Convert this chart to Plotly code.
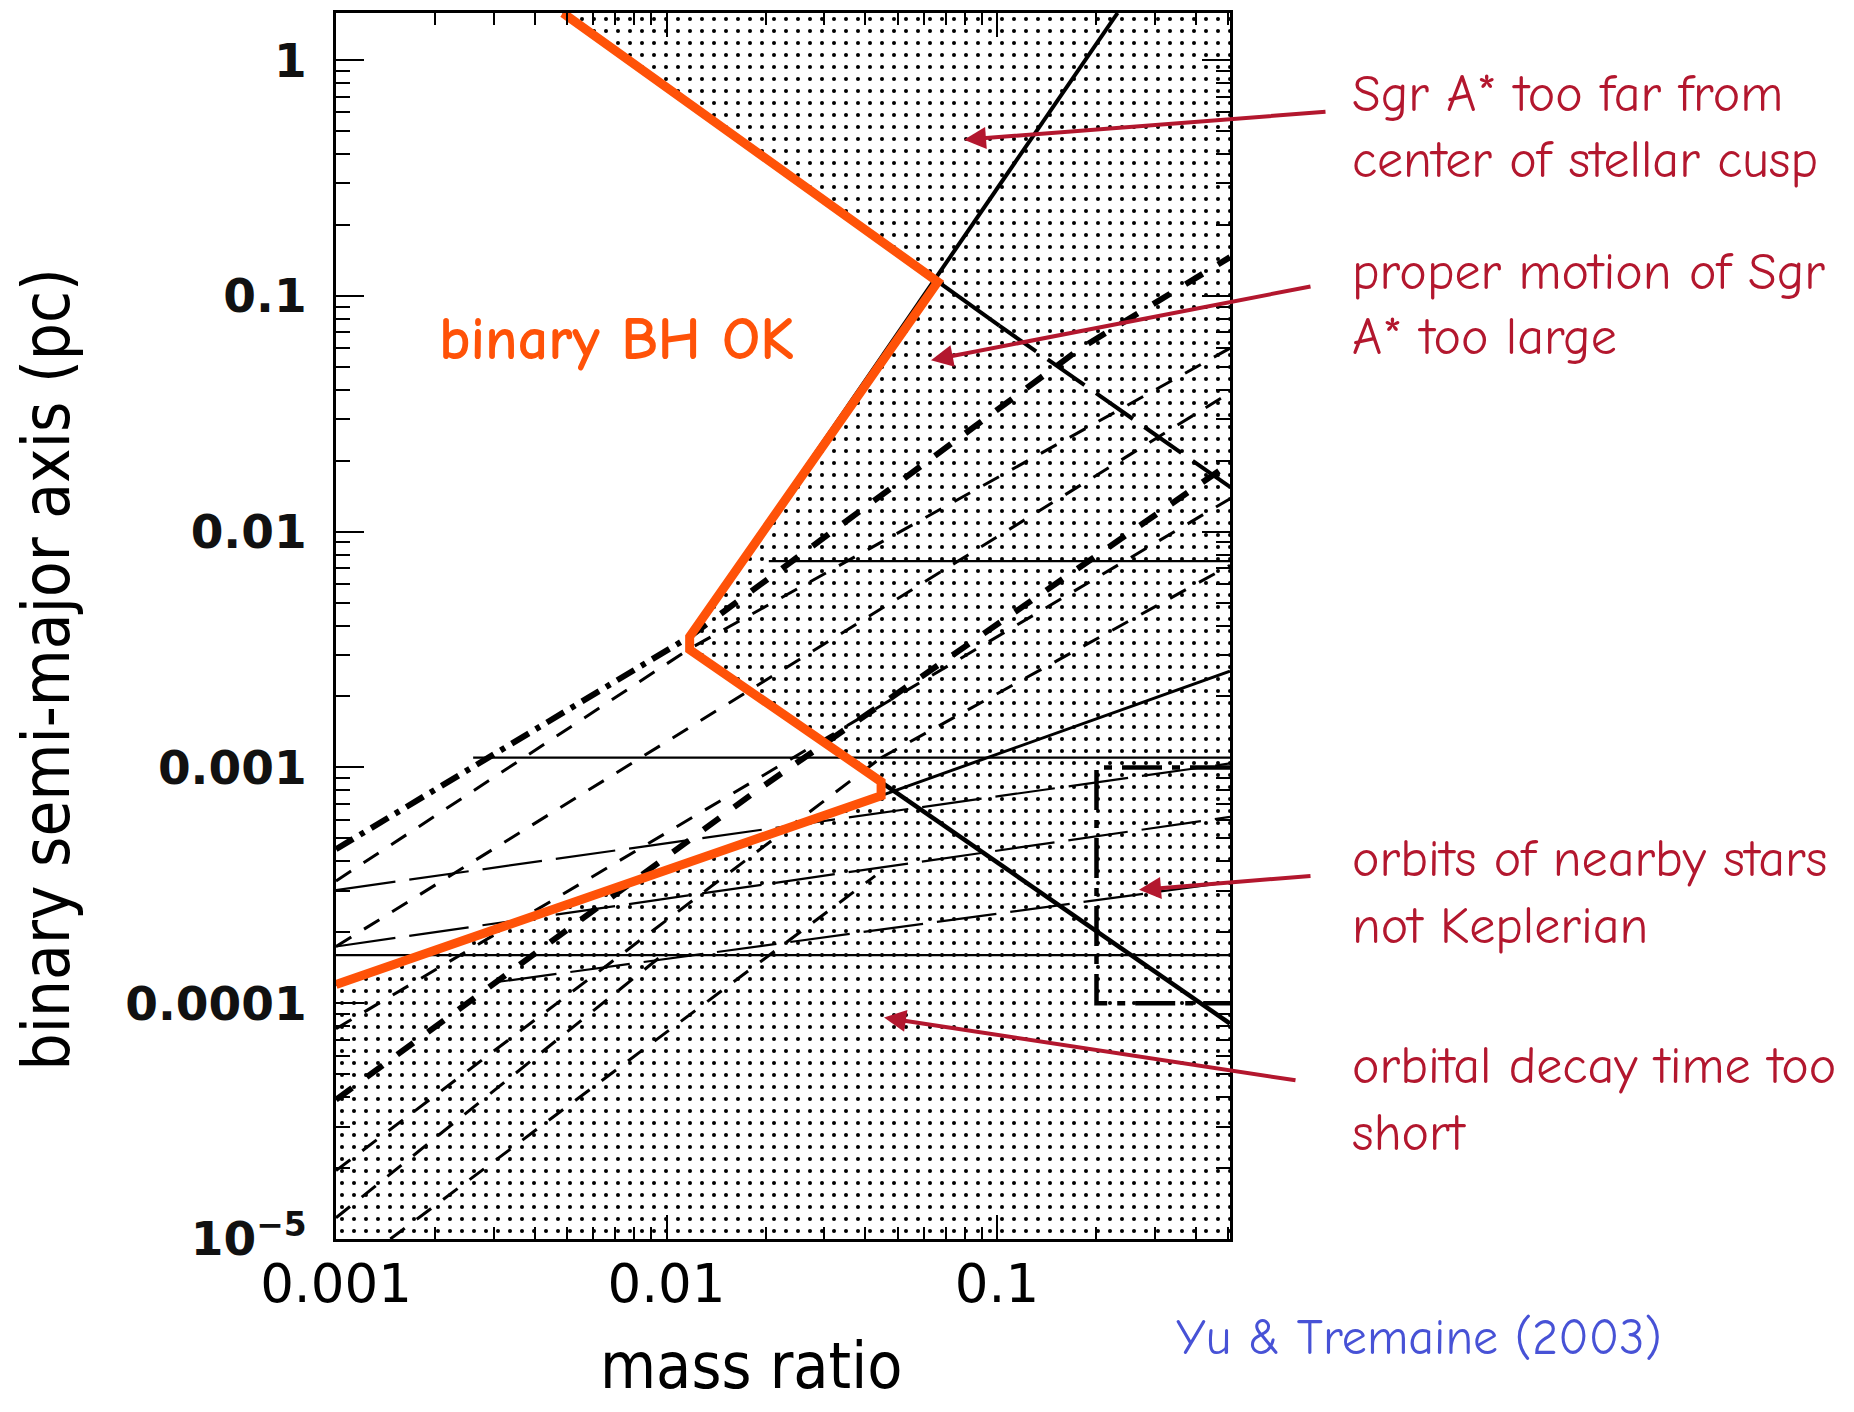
import plotly.graph_objects as go

# ---------------- axis ranges (log10) ----------------
X_LOG_RANGE = [-3.0, -0.295]
Y_LOG_RANGE = [-5.0, 0.2]
Q_MIN, Q_MAX = 0.001, 0.507
A_MIN, A_MAX = 1e-5, 1.585

# ---------------- data ----------------
# orange boundary of the allowed ("binary BH OK") region
ok_q = [0.00486, 0.0662, 0.01175, 0.01175, 0.0446, 0.0446, 0.001]
ok_a = [1.585, 0.1148, 0.00359, 0.00316, 0.00087, 0.000759, 0.00012]

# solid slope-2 line (stellar cusp)
cusp_q = [0.01175, 0.2317]
cusp_a = [0.00359, 1.585]

# slope -1 line (proper motion): solid part and long-dash part
pm_solid_q = [0.00486, 0.1016]
pm_solid_a = [1.585, 0.0748]
pm_dash_q = [0.1016, 0.507]
pm_dash_a = [0.0748, 0.0155]

# lower slope -1 solid line (orbits of nearby stars)
orb_q = [0.01175, 0.507]
orb_a = [0.00316, 8.2e-5]

# slope 1/2 line (orbital decay)
dec_q = [0.001, 0.0446, 0.507]
dec_a = [0.00012, 0.00076, 0.00256]

# thin horizontal lines
h_level = [0.0075, 0.0011, 0.00016]
h_start = [0.0204, 0.0026, 0.001]

# dash-dot box (stellar orbits)
box_q = [0.507, 0.2, 0.2, 0.507]
box_a = [0.001, 0.001, 0.0001, 0.0001]

# thick dash-dot line
dd_q = [0.001, 0.0118]
dd_a = [0.00045, 0.0036]

# bold dashed lines
f1_q = [0.0118, 0.178, 0.507]
f1_a = [0.0036, 0.0596, 0.146]
f2_q = [0.001, 0.0188, 0.507]
f2_a = [3.9e-5, 8.0e-4, 0.0195]

# thin dashed lines (steep)
g1_q = [0.001, 0.0118, 0.507]
g1_a = [3.3e-4, 0.0032, 0.06]
g2_q = [0.001, 0.507]
g2_a = [1.74e-4, 0.0389]
g3_q = [0.001, 0.507]
g3_a = [7.8e-5, 0.0138]
g4_q = [0.001, 0.0446]
g4_a = [1.95e-5, 0.0011]
g5_q = [0.00146, 0.0428]
g5_a = [1e-5, 3.47e-4]
g6_q = [0.001, 0.00972]
g6_a = [1.23e-5, 1.6e-4]
g7_q = [0.0446, 0.507]
g7_a = [0.0011, 0.0072]

# thin shallow lines
s1_q = [0.001, 0.507]
s1_a = [3.02e-4, 1.04e-3]
s2_q = [0.001, 0.507]
s2_a = [1.74e-4, 6.17e-4]
s3_q = [0.00307, 0.507]
s3_a = [1.23e-4, 3.27e-4]

# tick labels
y_tickvals = [1e-5, 1e-4, 1e-3, 1e-2, 1e-1, 1]
y_ticktext = ["10<sup>\u22125</sup>", "0.0001", "0.001", "0.01", "0.1", "1"]
x_tickvals = [0.001, 0.01, 0.1]
x_ticktext = ["0.001", "0.01", "0.1"]

# ---------------- figure ----------------
W, H = 1854, 1412
OFF = 8  # page body margin
ML, MR, MT, MB = 328, 632, 2, 181
PW, PH = W - ML - MR, H - MT - MB

fig = go.Figure()

# stippled excluded region = plot box minus the allowed region
fill_q = ok_q + [Q_MIN, Q_MAX, Q_MAX, ok_q[0]]
fill_a = ok_a + [A_MIN, A_MIN, A_MAX, ok_a[0]]
fig.add_trace(go.Scatter(
    x=fill_q, y=fill_a, mode="lines", fill="toself",
    line=dict(width=0), fillcolor="white",
    fillpattern=dict(shape=".", fgcolor="black", bgcolor="white",
                     size=12, solidity=0.09, fillmode="replace"),
    hoverinfo="skip", showlegend=False))


def line(q, a, width, dash="solid", color="black"):
    fig.add_trace(go.Scatter(x=q, y=a, mode="lines",
                             line=dict(color=color, width=width, dash=dash),
                             hoverinfo="skip", showlegend=False))


# thin dashed / shallow lines
for q, a in [(g1_q, g1_a), (g2_q, g2_a), (g3_q, g3_a), (g4_q, g4_a),
             (g5_q, g5_a), (g6_q, g6_a), (g7_q, g7_a)]:
    line(q, a, 3, "18px,15px")
for q, a in [(s1_q, s1_a), (s2_q, s2_a), (s3_q, s3_a)]:
    line(q, a, 2.2, "60px,14px")
# bold dashed
line(f1_q, f1_a, 6, "20px,18px")
line(f2_q, f2_a, 6, "20px,18px")
# dash-dot
line(dd_q, dd_a, 6, "20px,8px,5px,8px")
line(box_q, box_a, 4.5, "40px,10px,8px,10px")
# horizontals
for lv, st in zip(h_level, h_start):
    line([st, Q_MAX], [lv, lv], 2.2)
# main solid lines
line(cusp_q, cusp_a, 4)
line(pm_solid_q, pm_solid_a, 4)
line(pm_dash_q, pm_dash_a, 4, "45px,14px")
line(orb_q, orb_a, 4.5)
line(dec_q, dec_a, 3)
# orange allowed-region boundary
line(ok_q, ok_a, 9, "solid", "#FF5208")

# ---------------- axes ----------------
minor_x = [m * 10 ** e for e in (-3, -2, -1) for m in range(2, 10) if m * 10 ** e < Q_MAX]
minor_y = [m * 10 ** e for e in (-5, -4, -3, -2, -1, 0) for m in range(2, 10) if m * 10 ** e < A_MAX]

fig.update_xaxes(
    type="log", range=X_LOG_RANGE, showgrid=False, zeroline=False,
    showline=True, linewidth=3, linecolor="black", mirror="ticks",
    ticks="inside", ticklen=24, tickwidth=2, tickcolor="black",
    tickvals=x_tickvals, ticktext=x_ticktext,
    tickfont=dict(family="DejaVu Sans", size=53, color="black"),
    ticklabelstandoff=-4,
    minor=dict(tickvals=minor_x, ticks="inside", ticklen=12, tickwidth=2,
               tickcolor="black", showgrid=False),
)
fig.update_yaxes(
    type="log", range=Y_LOG_RANGE, showgrid=False, zeroline=False,
    showline=True, linewidth=3, linecolor="black", mirror="ticks",
    ticks="inside", ticklen=28, tickwidth=2, tickcolor="black",
    tickvals=y_tickvals, ticktext=y_ticktext,
    tickfont=dict(family="DejaVu Sans", size=47, color="#111111", weight="bold"),
    ticklabelstandoff=17,
    minor=dict(tickvals=minor_y, ticks="inside", ticklen=14, tickwidth=2,
               tickcolor="black", showgrid=False),
)


def px(xf):
    return (xf - OFF - ML) / PW


def py(yf):
    return (H - MB - (yf - OFF)) / PH


ann = []
comic = "Comic Sans MS, Comic Neue, Noto Sans, sans-serif"
narrow = "Liberation Sans Narrow, DejaVu Sans Condensed, Liberation Sans, sans-serif"
red = "#B3172E"

ann.append(dict(text="binary BH OK", x=px(437), y=py(337), xanchor="left", yanchor="middle",
                font=dict(family=comic, size=60, color="#FF5208", weight="bold")))
ann.append(dict(text="mass ratio", x=px(751), y=py(1366), xanchor="center", yanchor="middle",
                font=dict(family=narrow, size=64, color="black")))
ann.append(dict(text="binary semi-major axis (pc)", x=px(46), y=py(668), xanchor="center",
                yanchor="middle", textangle=-90,
                font=dict(family=narrow, size=65, color="black")))
ann.append(dict(text="Yu & Tremaine (2003)", x=px(1174), y=py(1338), xanchor="left", yanchor="middle",
                font=dict(family=comic, size=50, color="#4752D6")))

red_lines = [("Sgr A* too far from", 91), ("center of stellar cusp", 157),
             ("proper motion of Sgr", 270), ("A* too large", 335),
             ("orbits of nearby stars", 858), ("not Keplerian", 925),
             ("orbital decay time too", 1066), ("short", 1133)]
for t, yy in red_lines:
    ann.append(dict(text=t, x=px(1350), y=py(yy), xanchor="left", yanchor="middle",
                    font=dict(family=comic, size=52, color=red)))

arrows = [((964, 137), (1327, 109)), ((931, 358), (1312, 284)),
          ((1139, 889), (1312, 875)), ((884, 1017), (1297, 1080))]
for (tx, ty), (sx, sy) in arrows:
    ann.append(dict(text="", x=px(tx), y=py(ty), ax=sx - tx, ay=sy - ty,
                    showarrow=True, arrowhead=2, arrowsize=1.1, arrowwidth=4,
                    arrowcolor=red, standoff=0))

for a in ann:
    a.setdefault("showarrow", False)
    a["xref"] = "paper"
    a["yref"] = "paper"

fig.update_layout(
    width=W, height=H, autosize=False,
    margin=dict(l=ML, r=MR, t=MT, b=MB),
    paper_bgcolor="white", plot_bgcolor="white",
    showlegend=False, annotations=ann,
)

fig.write_html("out.html")
